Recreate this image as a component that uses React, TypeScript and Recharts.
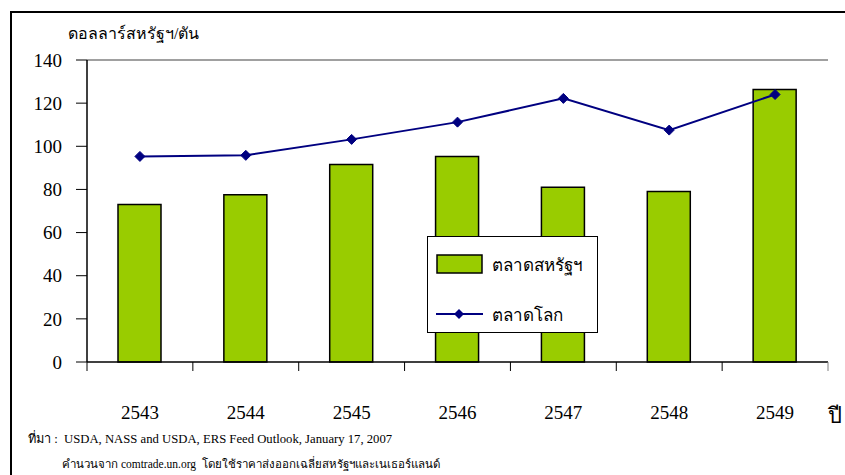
import React from "react";
import {
  ComposedChart,
  Bar,
  Line,
  XAxis,
  YAxis,
  Legend,
  ReferenceLine,
} from "recharts";

const years = ["2543", "2544", "2545", "2546", "2547", "2548", "2549"];
const usMarket = [73, 77.5, 91.5, 95.3, 81, 79, 126.3];
const worldMarket = [95.3, 95.8, 103.2, 111.2, 122.2, 107.5, 124];
const yTicks = [0, 20, 40, 60, 80, 100, 120, 140];

const data = years.map((y, i) => ({
  year: y,
  us: usMarket[i],
  world: worldMarket[i],
}));

const W = 845;
const H = 475;
const PLOT_LEFT = 87;
const PLOT_RIGHT = 828;
const PLOT_TOP = 60;
const PLOT_BOTTOM = 362;
const BAND = (PLOT_RIGHT - PLOT_LEFT) / years.length;

const SERIF = '"Liberation Serif", "Times New Roman", serif';

const XTick = (props: any) => {
  const { x, y, payload, index } = props;
  const half = BAND / 2;
  return (
    <g>
      <line x1={x - half} y1={y} x2={x - half} y2={y + 9} stroke="#000" strokeWidth={1} />
      {index === years.length - 1 && (
        <line x1={x + half} y1={y} x2={x + half} y2={y + 9} stroke="#808080" strokeWidth={1} />
      )}
      <text x={x} y={y + 57} textAnchor="middle" fontSize={19} fontFamily={SERIF} fill="#000">
        {payload.value}
      </text>
    </g>
  );
};

const Diamond = (props: any) => {
  const { cx, cy } = props;
  if (cx == null || cy == null) return null;
  const r = 5;
  return (
    <polygon
      points={`${cx},${cy - r} ${cx + r},${cy} ${cx},${cy + r} ${cx - r},${cy}`}
      fill="#000080"
      stroke="#000080"
    />
  );
};

const LegendBox = (props: any) => {
  const { payload } = props;
  return (
    <div
      style={{
        width: 171,
        height: 97,
        border: "1px solid #000",
        background: "#fff",
        boxSizing: "border-box",
        position: "relative",
        fontFamily: SERIF,
        fontSize: 17,
        whiteSpace: "nowrap",
      }}
    >
      {(payload || []).map((p: any, i: number) => (
        <div
          key={p.value}
          style={{
            position: "absolute",
            left: 8,
            top: i === 0 ? 14 : 64,
            display: "flex",
            alignItems: "center",
            height: 26,
          }}
        >
          {p.type === "rect" ? (
            <svg width={47} height={20}>
              <rect x={1} y={1} width={45} height={18} fill="#99CC00" stroke="#000" strokeWidth={1.5} />
            </svg>
          ) : (
            <svg width={47} height={20}>
              <line x1={0} y1={10} x2={47} y2={10} stroke="#000080" strokeWidth={2} />
              <polygon points="23,5 28,10 23,15 18,10" fill="#000080" />
            </svg>
          )}
          <span style={{ marginLeft: 9 }}>{p.value}</span>
        </div>
      ))}
    </div>
  );
};

export default function App() {
  return (
    <div style={{ position: "absolute", left: 0, top: 0, width: W, height: H, background: "#fff", overflow: "hidden" }}>
      <div
        style={{
          position: "absolute",
          left: 10,
          top: 11,
          width: W,
          height: H,
          borderLeft: "2px solid #000",
          borderTop: "2px solid #000",
        }}
      />
      <div style={{ position: "absolute", left: 0, top: 0 }}>
        <ComposedChart
          width={W}
          height={H}
          data={data}
          margin={{ top: PLOT_TOP, right: W - PLOT_RIGHT, bottom: H - PLOT_BOTTOM - 60, left: 0 }}
        >
          <XAxis
            dataKey="year"
            height={60}
            tick={<XTick />}
            tickLine={false}
            tickSize={0}
            tickMargin={0}
            axisLine={{ stroke: "#000", strokeWidth: 1.5 }}
            interval={0}
          />
          <YAxis
            yAxisId="l"
            width={PLOT_LEFT}
            domain={[0, 140]}
            ticks={yTicks}
            tickSize={11}
            tickMargin={14}
            tick={{ fontSize: 19, fontFamily: SERIF, fill: "#000" }}
            tickLine={{ stroke: "#000" }}
            axisLine={{ stroke: "#000", strokeWidth: 1.5 }}
          />
          <YAxis
            yAxisId="r"
            orientation="right"
            width={0}
            domain={[0, 140]}
            tick={false}
            tickLine={false}
            axisLine={{ stroke: "#808080" }}
          />
          <ReferenceLine yAxisId="l" y={140} stroke="#808080" strokeWidth={1.5} />
          <Bar
            yAxisId="l"
            dataKey="us"
            name="ตลาดสหรัฐฯ"
            legendType="rect"
            fill="#99CC00"
            stroke="#000"
            strokeWidth={1.5}
            barSize={43}
            isAnimationActive={false}
          />
          <Line
            yAxisId="l"
            dataKey="world"
            name="ตลาดโลก"
            legendType="line"
            stroke="#000080"
            strokeWidth={2}
            dot={<Diamond />}
            activeDot={false}
            isAnimationActive={false}
          />
          <Legend
            content={<LegendBox />}
            layout="vertical"
            verticalAlign="middle"
            align="center"
            wrapperStyle={{ left: 427, top: 236, width: 171 }}
          />
        </ComposedChart>
      </div>
      <div style={{ position: "absolute", left: 68, top: 21, fontSize: 16, fontFamily: SERIF, color: "#000" }}>
        ดอลลาร์สหรัฐฯ/ตัน
      </div>
      <div style={{ position: "absolute", left: 828, top: 398, fontSize: 22, fontFamily: SERIF, color: "#000" }}>
        ปี
      </div>
      <div style={{ position: "absolute", left: 28, top: 428, fontSize: 12.7, fontFamily: SERIF, color: "#000", whiteSpace: "nowrap" }}>
        ที่มา :&nbsp; USDA, NASS and USDA, ERS Feed Outlook, January 17, 2007
      </div>
      <div style={{ position: "absolute", left: 62, top: 455, fontSize: 11.5, fontFamily: SERIF, color: "#000", whiteSpace: "nowrap" }}>
        คำนวนจาก comtrade.un.org&nbsp; โดยใช้ราคาส่งออกเฉลี่ยสหรัฐฯและเนเธอร์แลนด์
      </div>
    </div>
  );
}
